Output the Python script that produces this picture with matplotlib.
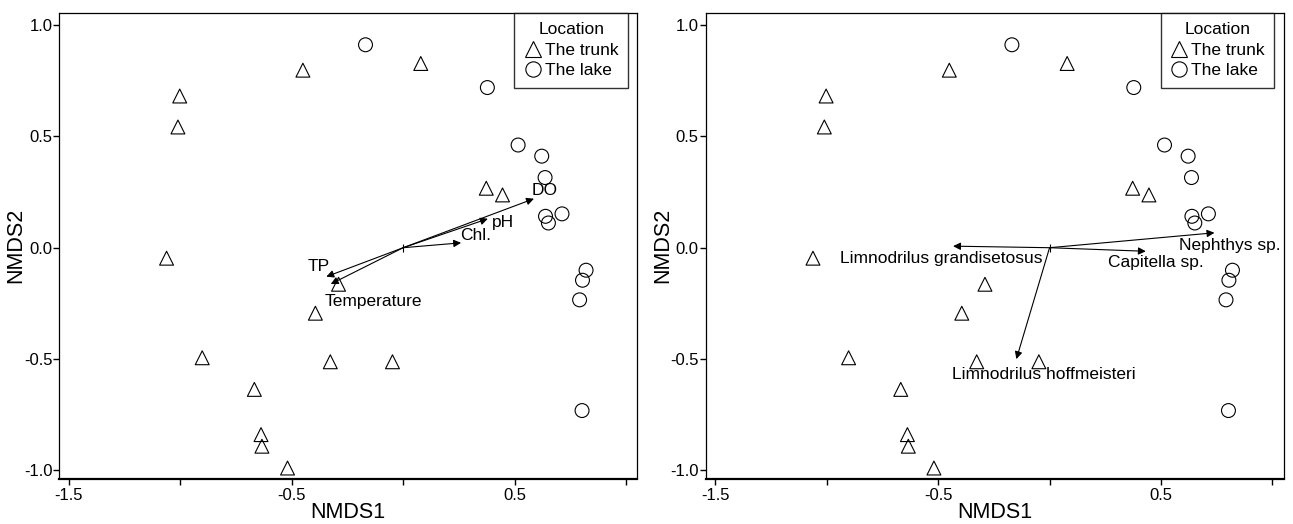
import matplotlib
matplotlib.use("Agg")
import matplotlib.pyplot as plt
from matplotlib.lines import Line2D

plt.rcParams['font.family'] = ['Liberation Sans', 'DejaVu Sans']

# ---- data ----
trunk_x = [-1.003, -1.011, -0.450, 0.079, -1.062, 0.373, 0.446, -0.290, -0.394,
           -0.902, -0.327, -0.048, -0.668, -0.638, -0.634, -0.519]
trunk_y = [0.681, 0.542, 0.797, 0.827, -0.047, 0.267, 0.237, -0.164, -0.294,
           -0.494, -0.512, -0.512, -0.636, -0.839, -0.891, -0.989]
lake_x = [-0.169, 0.378, 0.516, 0.622, 0.637, 0.639, 0.652, 0.713, 0.821, 0.805, 0.792, 0.803]
lake_y = [0.911, 0.719, 0.461, 0.411, 0.315, 0.141, 0.111, 0.152, -0.101, -0.146, -0.234, -0.731]

env_names = ["DO", "pH", "Chl.", "TP", "Temperature"]
env_x = [0.587, 0.380, 0.260, -0.345, -0.325]
env_y = [0.220, 0.130, 0.022, -0.130, -0.163]
env_lab_x = [0.634, 0.450, 0.325, -0.380, -0.133]
env_lab_y = [0.259, 0.112, 0.055, -0.083, -0.240]

sp_names = ["Limnodrilus grandisetosus", "Capitella sp.", "Nephthys sp.", "Limnodrilus hoffmeisteri"]
sp_x = [-0.433, 0.432, 0.740, -0.149]
sp_y = [0.007, -0.016, 0.067, -0.500]
sp_lab_x = [-0.488, 0.479, 0.807, -0.024]
sp_lab_y = [-0.050, -0.068, 0.012, -0.570]

xticks = [-1.5, -1.0, -0.5, 0.0, 0.5, 1.0]
xticklabels = ["-1.5", "", "-0.5", "", "0.5", ""]
yticks = [-1.0, -0.5, 0.0, 0.5, 1.0]
yticklabels = ["-1.0", "-0.5", "0.0", "0.5", "1.0"]

W, H = 1293, 524
fig = plt.figure(figsize=(W / 100, H / 100), dpi=100)

def make_axes(left_px):
    l = left_px / W
    w = (637.3 - 59.3) / W
    b = 1 - 478.5 / H
    h = (478.5 - 12.7) / H
    return fig.add_axes([l, b, w, h])

def draw_panel(ax, names, vx, vy, lx, ly):
    ax.scatter(trunk_x, trunk_y, marker='^', s=100, facecolors='none',
               edgecolors='black', linewidths=0.8, zorder=3)
    ax.scatter(lake_x, lake_y, marker='o', s=100, facecolors='none',
               edgecolors='black', linewidths=0.8, zorder=3)
    for n, x, y, tx, ty in zip(names, vx, vy, lx, ly):
        ax.annotate("", xy=(x, y), xytext=(0, 0),
                    arrowprops=dict(arrowstyle='-|>', lw=0.8, color='black',
                                    mutation_scale=11, shrinkA=0, shrinkB=0),
                    zorder=4)
        ax.text(tx, ty, n, ha='center', va='center', fontsize=12.5, color='black')
    ax.plot([0], [0], marker='|', markersize=6, color='black', mew=0.8)
    ax.set_xlim(-1.5435, 1.051)
    ax.set_ylim(-1.036, 1.055)
    ax.set_xticks(xticks)
    ax.set_xticklabels(xticklabels, fontsize=12)
    ax.set_yticks(yticks)
    ax.set_yticklabels(yticklabels, fontsize=12)
    ax.tick_params(axis='both', direction='out', length=4, width=1.0, colors='black')
    ax.tick_params(axis='x', pad=3)
    ax.tick_params(axis='y', pad=1)
    for s in ['top', 'right', 'left']:
        ax.spines[s].set_linewidth(0.9)
    ax.spines['bottom'].set_linewidth(1.6)
    ax.set_xlabel("NMDS1", fontsize=15.5, labelpad=-1)
    ax.set_ylabel("NMDS2", fontsize=15.5, labelpad=-2)
    handles = [Line2D([], [], marker='^', ls='none', mfc='none', mec='black', ms=11, mew=0.8),
               Line2D([], [], marker='o', ls='none', mfc='none', mec='black', ms=11, mew=0.8)]
    leg = ax.legend(handles, ["The trunk", "The lake"], title="Location",
                    loc='upper right', bbox_to_anchor=(0.984, 1.0), borderaxespad=0,
                    fontsize=12.5, title_fontsize=12.5, frameon=True, fancybox=False,
                    handletextpad=0.2, handlelength=1.0, borderpad=0.55,
                    labelspacing=0.3)
    leg.get_frame().set_edgecolor('black')
    leg.get_frame().set_linewidth(1.0)

ax1 = make_axes(59.3)
draw_panel(ax1, env_names, env_x, env_y, env_lab_x, env_lab_y)
ax2 = make_axes(705.7)
draw_panel(ax2, sp_names, sp_x, sp_y, sp_lab_x, sp_lab_y)

fig.savefig("out.png", dpi=100)
